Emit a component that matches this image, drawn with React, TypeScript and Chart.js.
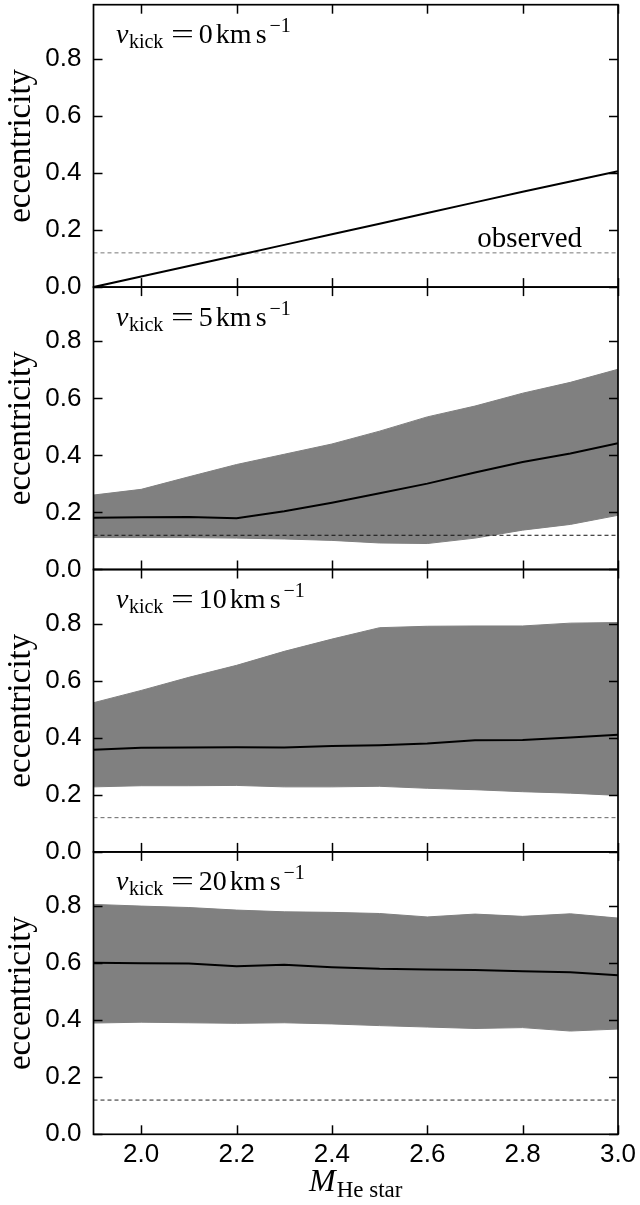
import React, { useEffect, useRef } from 'react';
import { Chart, registerables } from 'chart.js';

Chart.register(...registerables);

// ---------- data ----------
const MASS = [1.9, 2.0, 2.1, 2.2, 2.3, 2.4, 2.5, 2.6, 2.7, 2.8, 2.9, 3.0];
const X_TICKS = [2.0, 2.2, 2.4, 2.6, 2.8, 3.0];
const Y_TICKS = [0, 0.2, 0.4, 0.6, 0.8];
const KICKS = [0, 5, 10, 20];
const OBSERVED = 0.12;

const MEDIAN_0 = [0.0, 0.037, 0.074, 0.111, 0.148, 0.185, 0.222, 0.26, 0.297, 0.334, 0.37, 0.406];

const UPPER_5 = [0.261, 0.281, 0.325, 0.368, 0.404, 0.44, 0.485, 0.535, 0.573, 0.618, 0.656, 0.702];
const MEDIAN_5 = [0.181, 0.183, 0.184, 0.18, 0.204, 0.234, 0.267, 0.301, 0.34, 0.377, 0.407, 0.443];
const LOWER_5 = [0.112, 0.112, 0.112, 0.11, 0.107, 0.102, 0.093, 0.091, 0.11, 0.138, 0.158, 0.19];

const UPPER_10 = [0.523, 0.566, 0.612, 0.654, 0.703, 0.746, 0.786, 0.791, 0.792, 0.792, 0.802, 0.804];
const MEDIAN_10 = [0.358, 0.365, 0.366, 0.367, 0.366, 0.371, 0.374, 0.38, 0.391, 0.392, 0.401, 0.411];
const LOWER_10 = [0.228, 0.232, 0.232, 0.233, 0.228, 0.228, 0.23, 0.223, 0.218, 0.211, 0.206, 0.198];

const UPPER_20 = [0.806, 0.8, 0.795, 0.786, 0.78, 0.778, 0.774, 0.762, 0.772, 0.764, 0.773, 0.758];
const MEDIAN_20 = [0.601, 0.6, 0.599, 0.589, 0.594, 0.586, 0.58, 0.578, 0.576, 0.572, 0.568, 0.558];
const LOWER_20 = [0.39, 0.393, 0.391, 0.389, 0.391, 0.387, 0.381, 0.376, 0.371, 0.374, 0.362, 0.369];

const MEDIANS = [MEDIAN_0, MEDIAN_5, MEDIAN_10, MEDIAN_20];
const UPPERS: (number[] | null)[] = [null, UPPER_5, UPPER_10, UPPER_20];
const LOWERS: (number[] | null)[] = [null, LOWER_5, LOWER_10, LOWER_20];

// ---------- layout / style ----------
const W = 640;
const PAGE_H = 1205;
const PLOT_LEFT = 93.5;
const PLOT_RIGHT = 618;
const FIRST_TOP = 4.7;
const PANEL_H = 282.4;
const X_AXIS_H = 60;
const TICK_LEN = 9;
const SERIF = '"Liberation Serif", "Times New Roman", serif';
const SANS = '"Liberation Sans", Arial, sans-serif';
const OBS_COLORS = ['#777777', '#111111', '#666666', '#222222'];
const BAND = '#808080';

function drawKickLabel(ctx: CanvasRenderingContext2D, x: number, base: number, kick: number) {
  const big = 28;
  const small = 20;
  ctx.fillStyle = '#000';
  ctx.textAlign = 'left';
  ctx.textBaseline = 'alphabetic';
  let cx = x;
  ctx.font = `italic ${big}px ${SERIF}`;
  ctx.fillText('v', cx, base);
  cx += ctx.measureText('v').width + 0.5;
  ctx.font = `${small}px ${SERIF}`;
  ctx.fillText('kick', cx, base + 5);
  cx += ctx.measureText('kick').width;
  ctx.font = `${big}px ${SERIF}`;
  const eqW = ctx.measureText('=').width;
  const eqC = cx + 19;
  ctx.save();
  ctx.translate(eqC, base);
  ctx.scale(1.45, 1);
  ctx.fillText('=', -eqW / 2, 0);
  ctx.restore();
  cx = eqC + 16.5;
  const num = String(kick);
  ctx.fillText(num, cx, base);
  cx += ctx.measureText(num).width + 3;
  ctx.fillText('km', cx, base);
  cx += ctx.measureText('km').width + 4;
  ctx.fillText('s', cx, base);
  cx += ctx.measureText('s').width + 3;
  ctx.font = `${small}px ${SERIF}`;
  ctx.fillText('\u22121', cx, base - 11);
}

function Panel({ index }: { index: number }) {
  const ref = useRef<HTMLCanvasElement>(null);
  const top = FIRST_TOP + index * PANEL_H;
  const last = index === KICKS.length - 1;
  const canvasTop = Math.max(0, Math.floor(top - 24));
  const canvasH = last ? PAGE_H - canvasTop : Math.ceil(top + PANEL_H + 24) - canvasTop;
  const padTop = top - canvasTop;
  const padBottom = canvasH - padTop - PANEL_H - (last ? X_AXIS_H : 0);

  useEffect(() => {
    const canvas = ref.current;
    if (!canvas) return;
    const pts = (arr: number[]) => MASS.map((x, i) => ({ x, y: arr[i] }));
    const datasets: any[] = [
      {
        label: 'median',
        data: pts(MEDIANS[index]),
        borderColor: '#000',
        borderWidth: 2,
        pointRadius: 0,
        fill: false,
        tension: 0,
      },
      {
        label: 'observed',
        data: [
          { x: MASS[0], y: OBSERVED },
          { x: MASS[MASS.length - 1], y: OBSERVED },
        ],
        borderColor: OBS_COLORS[index],
        borderWidth: 1,
        borderDash: [4, 3],
        pointRadius: 0,
        fill: false,
      },
    ];
    const up = UPPERS[index];
    const lo = LOWERS[index];
    if (up && lo) {
      datasets.push(
        {
          label: 'upper',
          data: pts(up),
          borderColor: BAND,
          borderWidth: 1,
          backgroundColor: BAND,
          pointRadius: 0,
          fill: '+1',
        },
        {
          label: 'lower',
          data: pts(lo),
          borderColor: BAND,
          borderWidth: 1,
          pointRadius: 0,
          fill: false,
        }
      );
    }

    const frame = {
      id: 'frame',
      afterDraw(chart: any) {
        const { ctx, chartArea: a, scales } = chart;
        const sx = scales.x;
        const sy = scales.y;
        ctx.save();
        ctx.setLineDash([]);
        ctx.lineCap = 'butt';
        ctx.globalAlpha = 1;
        ctx.strokeStyle = '#000000';
        ctx.lineWidth = 1.5;
        const seg = (x1: number, y1: number, x2: number, y2: number) => {
          ctx.beginPath();
          ctx.moveTo(x1, y1);
          ctx.lineTo(x2, y2);
          ctx.stroke();
        };
        X_TICKS.forEach((v) => {
          const px = Math.round(sx.getPixelForValue(v)) + 0.5;
          seg(px, a.bottom, px, a.bottom - TICK_LEN);
          seg(px, a.top, px, a.top + TICK_LEN);
        });
        Y_TICKS.forEach((v) => {
          const py = Math.round(sy.getPixelForValue(v)) + 0.5;
          seg(a.left, py, a.left + TICK_LEN, py);
          seg(a.right, py, a.right - TICK_LEN, py);
        });
        ctx.lineWidth = 1.7;
        ctx.strokeRect(a.left, a.top, a.right - a.left, a.bottom - a.top);

        drawKickLabel(ctx, a.left + 22.5, a.top + 38.5, KICKS[index]);

        if (index === 0) {
          ctx.fillStyle = '#000';
          ctx.font = `29px ${SERIF}`;
          ctx.textAlign = 'right';
          ctx.textBaseline = 'alphabetic';
          ctx.fillText('observed', a.right - 36, sy.getPixelForValue(OBSERVED) - 6);
        }

        if (last) {
          const base = a.bottom + 56.4;
          ctx.fillStyle = '#000';
          ctx.textAlign = 'left';
          ctx.textBaseline = 'alphabetic';
          ctx.font = `italic 32px ${SERIF}`;
          const mW = ctx.measureText('M').width;
          ctx.font = `23px ${SERIF}`;
          const subW = ctx.measureText('He star').width;
          const total = mW + 1 + subW;
          const start = (a.left + a.right) / 2 - total / 2;
          ctx.font = `italic 32px ${SERIF}`;
          ctx.fillText('M', start, base);
          ctx.font = `23px ${SERIF}`;
          ctx.fillText('He star', start + mW + 1, base + 6);
        }
        ctx.restore();
      },
    };

    const chart = new Chart(canvas, {
      type: 'line',
      data: { datasets },
      options: {
        animation: false,
        responsive: false,
        maintainAspectRatio: false,
        events: [],
        layout: {
          padding: { top: padTop, bottom: padBottom, left: 0, right: W - PLOT_RIGHT },
        },
        plugins: {
          legend: { display: false },
          tooltip: { enabled: false },
        },
        scales: {
          x: {
            type: 'linear',
            min: 1.9,
            max: 3.0,
            display: last,
            afterBuildTicks: (s: any) => {
              s.ticks = X_TICKS.map((value) => ({ value }));
            },
            afterFit: (s: any) => {
              s.height = last ? X_AXIS_H : 0;
              s.paddingLeft = 0;
              s.paddingRight = 0;
            },
            grid: { display: false, drawTicks: false },
            border: { display: false },
            ticks: {
              color: '#000',
              font: { family: SANS, size: 26 },
              padding: 5,
              maxRotation: 0,
              autoSkip: false,
              callback: (v: any) => Number(v).toFixed(1),
            },
          },
          y: {
            type: 'linear',
            min: 0,
            max: 0.99,
            afterBuildTicks: (s: any) => {
              s.ticks = Y_TICKS.map((value) => ({ value }));
            },
            afterFit: (s: any) => {
              s.width = PLOT_LEFT;
              s.paddingTop = 0;
              s.paddingBottom = 0;
            },
            grid: { display: false, drawTicks: false },
            border: { display: false },
            ticks: {
              color: '#000',
              font: { family: SANS, size: 26 },
              padding: 12,
              autoSkip: false,
              callback: (v: any) => Number(v).toFixed(1),
            },
            title: {
              display: true,
              text: 'eccentricity',
              color: '#000',
              font: { family: SERIF, size: 33, weight: 'normal' },
              padding: { top: 2, bottom: 0 },
            },
          },
        },
      },
      plugins: [frame],
    } as any);
    return () => chart.destroy();
  }, [index, padTop, padBottom, last]);

  return (
    <canvas
      ref={ref}
      width={W}
      height={canvasH}
      style={{ position: 'absolute', left: 0, top: canvasTop, width: W, height: canvasH }}
    />
  );
}

export default function App() {
  return (
    <div
      style={{
        position: 'absolute',
        left: 0,
        top: 0,
        width: W,
        height: PAGE_H,
        background: '#fff',
        overflow: 'hidden',
      }}
    >
      {KICKS.map((k, i) => (
        <Panel key={k} index={i} />
      ))}
    </div>
  );
}
